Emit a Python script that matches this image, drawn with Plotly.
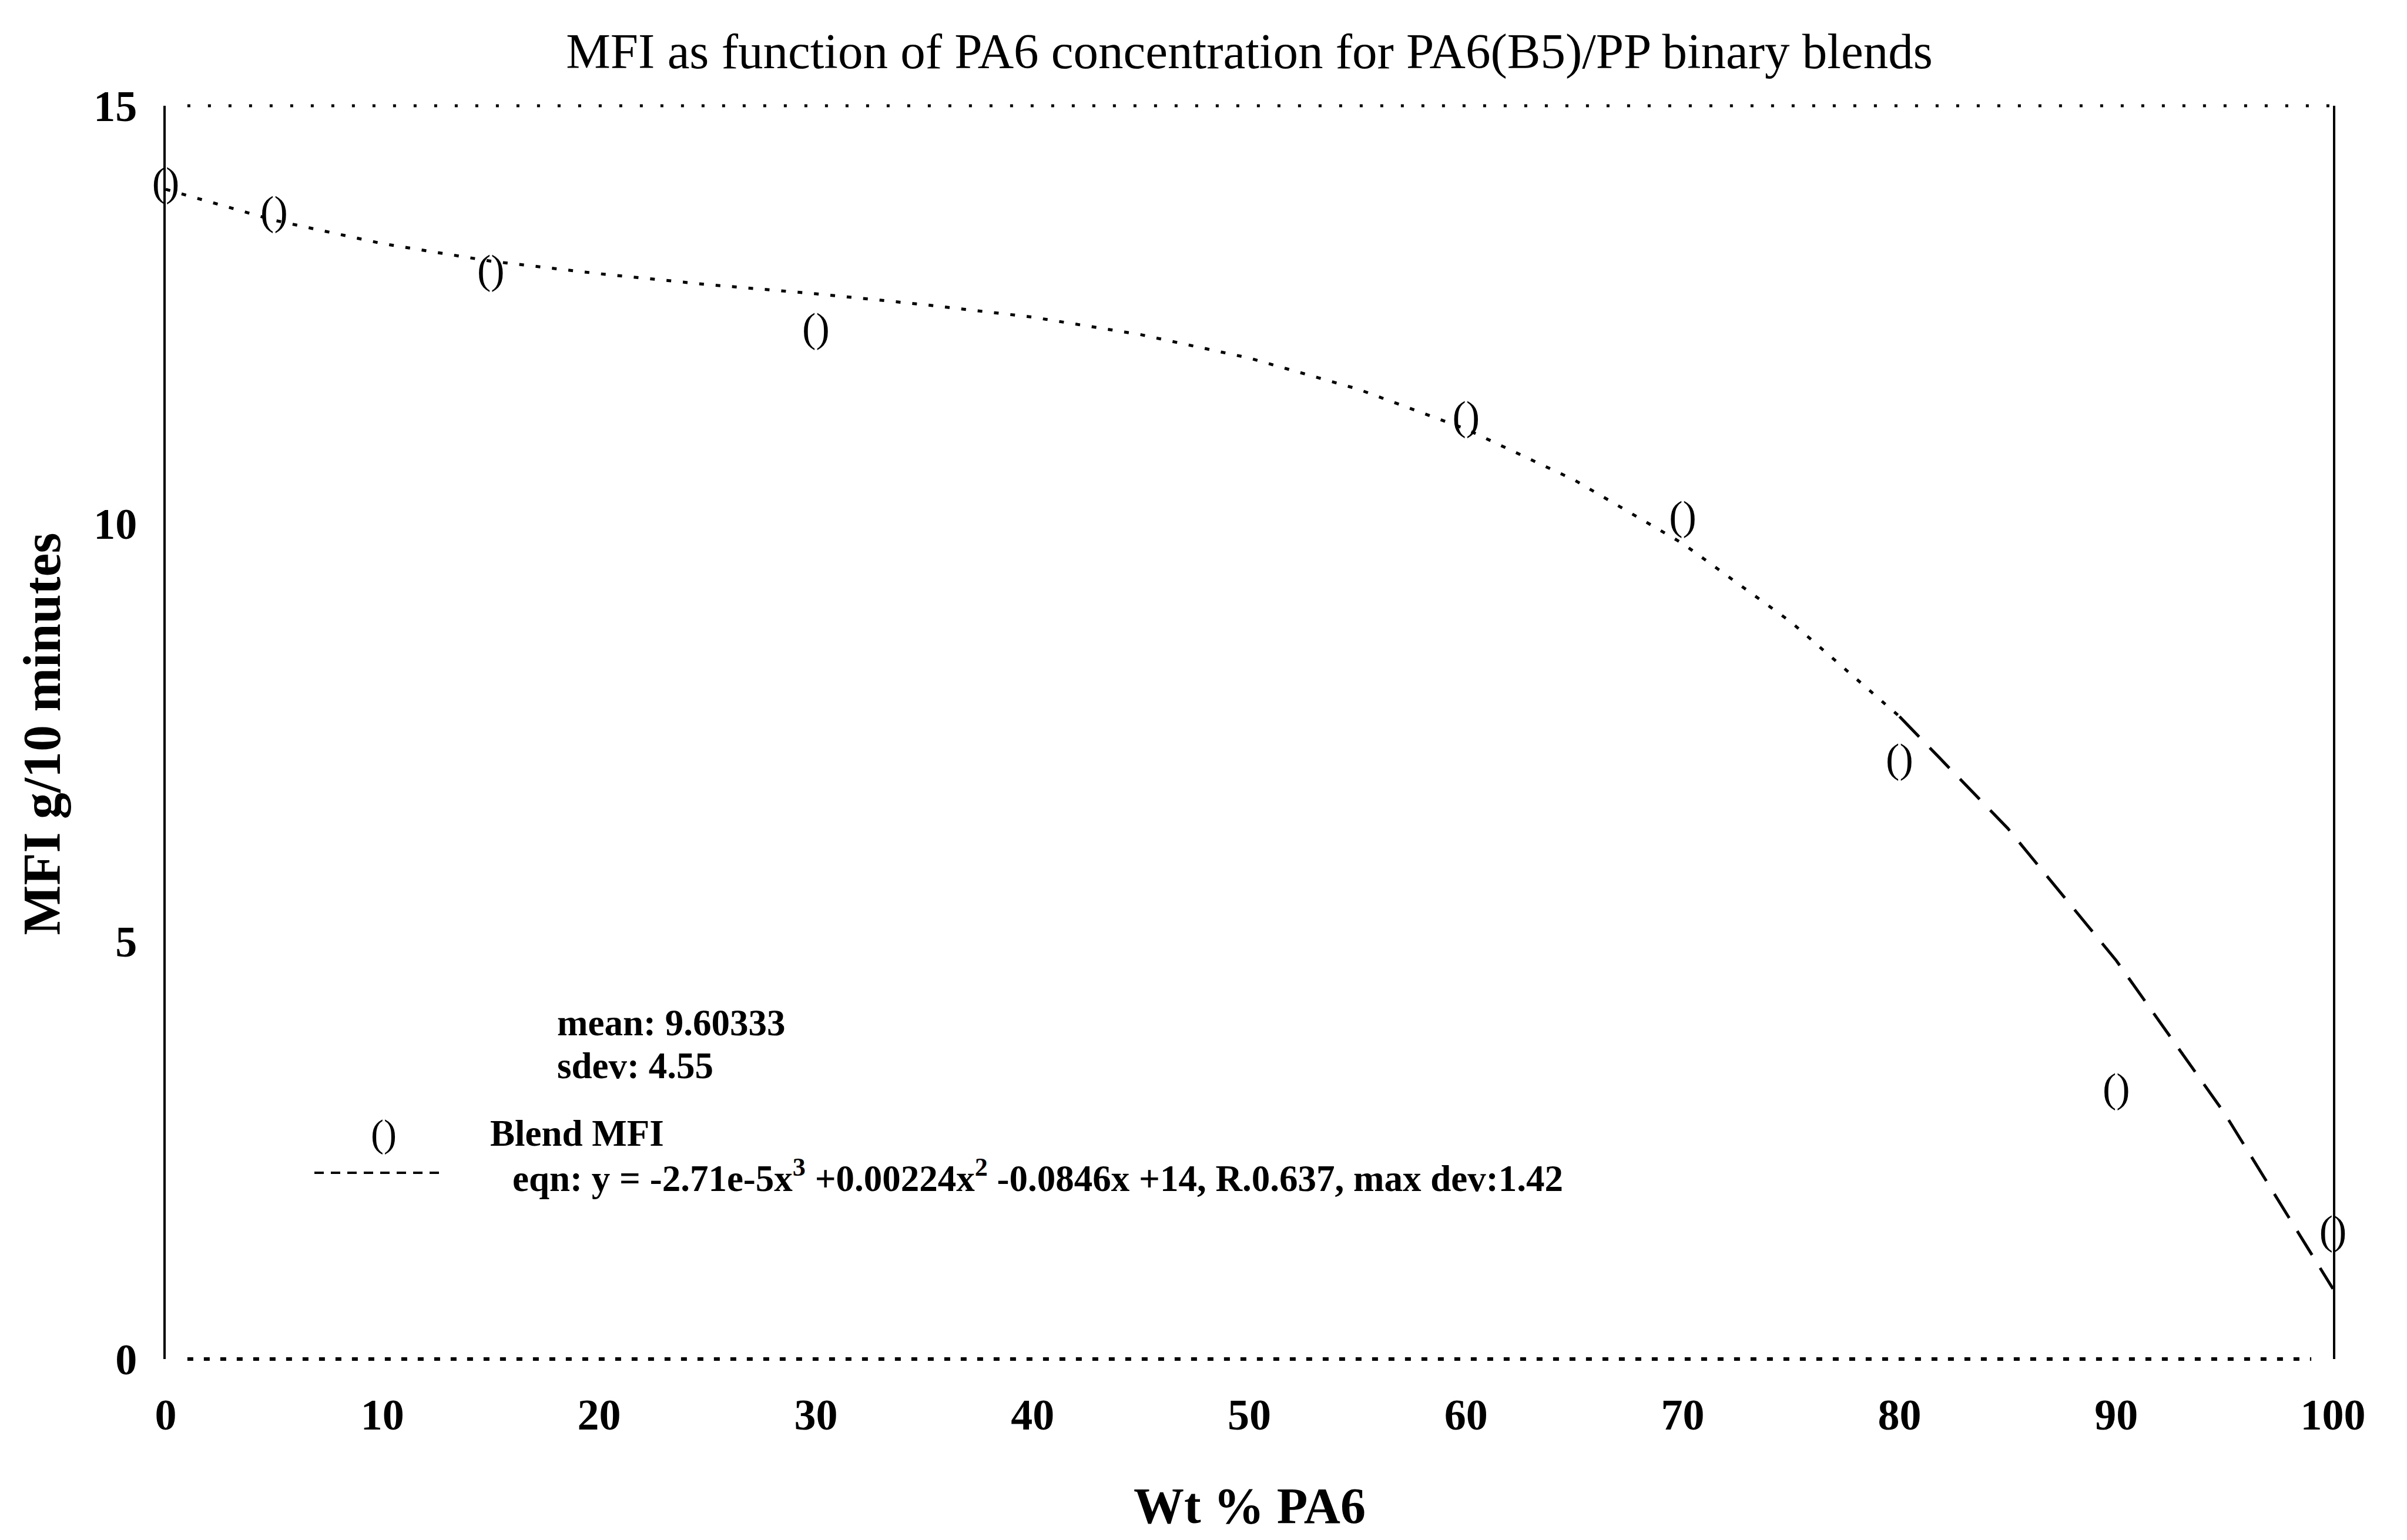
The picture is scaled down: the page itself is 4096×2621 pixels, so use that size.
import plotly.graph_objects as go

# ---- data ----
wt_pa6 = [0, 5, 15, 30, 60, 70, 80, 90, 100]
blend_mfi = [14.05, 13.7, 13.0, 12.3, 11.25, 10.05, 7.15, 3.2, 1.5]

fit_x = [0, 5, 10, 15, 20, 25, 30, 35, 40, 45, 50, 55, 60, 65, 70, 75, 80, 85, 90, 95, 100]
fit_y = [14.0, 13.63, 13.35, 13.14, 12.99, 12.86, 12.75, 12.62, 12.47, 12.26, 11.98,
         11.61, 11.13, 10.52, 9.76, 8.82, 7.69, 6.35, 4.77, 2.94, 0.84]
split_idx = 16  # fit drawn dotted up to x=80, long dashes after

x_ticks = [0, 10, 20, 30, 40, 50, 60, 70, 80, 90, 100]
y_ticks = [0, 5, 10, 15]

title_text = "MFI as function of PA6 concentration for PA6(B5)/PP binary blends"
x_title = "Wt % PA6"
y_title = "MFI g/10 minutes"
stats_text = ["mean: 9.60333", "sdev: 4.55"]
legend_marker_label = "Blend MFI"
legend_fit_label = "eqn: y = -2.71e-5x<sup>3</sup> +0.00224x<sup>2</sup> -0.0846x +14, R.0.637, max dev:1.42"

FONT = "Liberation Serif"

fig = go.Figure()

# fitted curve, first part (dotted)
fig.add_trace(go.Scatter(
    x=fit_x[:split_idx + 1], y=fit_y[:split_idx + 1], mode="lines",
    line=dict(color="black", width=5, dash="8px,20px"),
    showlegend=False, hoverinfo="skip"))
# fitted curve, second part (long dashes)
fig.add_trace(go.Scatter(
    x=fit_x[split_idx:], y=fit_y[split_idx:], mode="lines",
    line=dict(color="black", width=5, dash="48px,26px"),
    showlegend=False, hoverinfo="skip"))

# data points drawn as "()" glyphs
fig.add_trace(go.Scatter(
    x=wt_pa6, y=blend_mfi, mode="text", text=["()"] * len(wt_pa6),
    textposition="middle center",
    textfont=dict(family=FONT, size=70, color="black"),
    cliponaxis=False, showlegend=False, name="Blend MFI"))

axis_font = dict(family=FONT, size=74, color="black", weight="bold")

fig.update_layout(
    width=4096, height=2621,
    margin=dict(l=282, r=126, t=180, b=308),
    paper_bgcolor="white", plot_bgcolor="white",
    title=dict(text=title_text, x=0.5, xref="paper", xanchor="center",
               y=1 - 86 / 2621, yref="container", yanchor="middle",
               font=dict(family=FONT, size=85, color="black")),
    showlegend=False,
)

fig.update_xaxes(range=[0, 100], tickvals=x_ticks, ticktext=[str(v) for v in x_ticks],
                 showgrid=False, zeroline=False, showline=False, ticks="",
                 tickfont=axis_font, ticklabelstandoff=45)
fig.update_yaxes(range=[0, 15], tickvals=y_ticks, ticktext=[str(v) for v in y_ticks],
                 showgrid=False, zeroline=False, showline=True, mirror=True,
                 linecolor="black", linewidth=4, ticks="",
                 tickfont=axis_font, ticklabelstandoff=30)

# dotted top and bottom frame lines
fig.add_shape(type="line", xref="paper", yref="paper", x0=0.01, x1=1, y0=1, y1=1,
              line=dict(color="black", width=5, dash="5px,30px"))
fig.add_shape(type="line", xref="paper", yref="paper", x0=0.01, x1=0.99, y0=0, y1=0,
              line=dict(color="black", width=6, dash="10px,18px"))

# axis titles
fig.add_annotation(text=x_title, xref="paper", yref="paper", x=0.5, y=-0.117,
                   xanchor="center", yanchor="middle", showarrow=False,
                   font=dict(family=FONT, size=86, color="black", weight="bold"))
fig.add_annotation(text=y_title, xref="paper", yref="paper", x=-0.057, y=0.499,
                   xanchor="center", yanchor="middle", textangle=-90, showarrow=False,
                   font=dict(family=FONT, size=90, color="black", weight="bold"))

# in-plot legend and statistics
leg_font = dict(family=FONT, size=63, color="black", weight="bold")
fig.add_annotation(text=stats_text[0], xref="paper", yref="paper", x=0.180, y=0.268,
                   xanchor="left", yanchor="middle", showarrow=False, font=leg_font)
fig.add_annotation(text=stats_text[1], xref="paper", yref="paper", x=0.180, y=0.234,
                   xanchor="left", yanchor="middle", showarrow=False, font=leg_font)
fig.add_annotation(text="()", xref="paper", yref="paper", x=0.1006, y=0.180,
                   xanchor="center", yanchor="middle", showarrow=False,
                   font=dict(family=FONT, size=66, color="black"))
fig.add_annotation(text=legend_marker_label, xref="paper", yref="paper", x=0.149, y=0.180,
                   xanchor="left", yanchor="middle", showarrow=False, font=leg_font)
fig.add_shape(type="line", xref="paper", yref="paper", x0=0.0686, x1=0.1288,
              y0=0.1486, y1=0.1486, line=dict(color="black", width=4, dash="16px,12px"))
fig.add_annotation(text=legend_fit_label, xref="paper", yref="paper", x=0.1594, y=0.146,
                   xanchor="left", yanchor="middle", showarrow=False, font=leg_font)

fig.write_html("out.html")
